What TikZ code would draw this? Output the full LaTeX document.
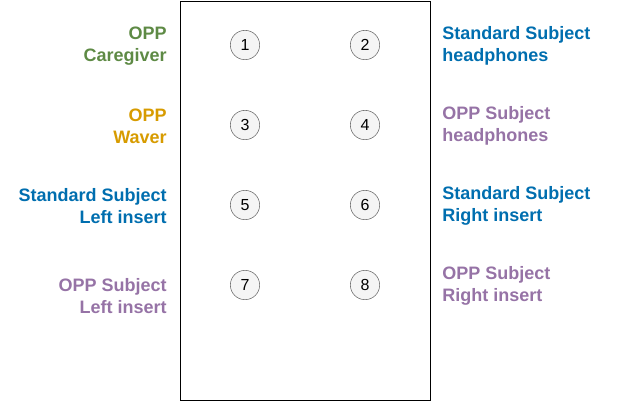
\documentclass[tikz,border=0pt]{standalone}
\usepackage{fontspec}
\setmainfont{Liberation Sans}
\usepackage{xcolor}
\usetikzlibrary{positioning}

\definecolor{oppgreen}{HTML}{5E8A45}
\definecolor{opporange}{HTML}{D79B00}
\definecolor{stdblue}{HTML}{006EAF}
\definecolor{opppurple}{HTML}{9673A6}

\tikzset{
    lbl/.style={font=\fontsize{13.5}{16.8}\selectfont\bfseries, inner sep=0pt},
    lbll/.style={lbl, anchor=east, align=right},
    lblr/.style={lbl, anchor=west, align=left},
    spot/.style={circle, draw=black!60, fill=black!4, minimum size=22pt, inner sep=0pt, font=\fontsize{12}{14}\selectfont}
}

\begin{document}
\begin{tikzpicture}[x=0.75pt, y=-0.75pt]
    \useasboundingbox (0,0) rectangle (631,401);

    % Box
    \draw[black, line width=0.75pt] (180.5,1) rectangle (430.5,400);

    % Spots
    \foreach \n/\x/\y in {1/245/45, 2/365/45, 3/245/125, 4/365/125, 5/245/205, 6/365/205, 7/245/285, 8/365/285}
        \node[spot] (s\n) at (\x,\y) {\n};

    % Left labels
    \node[lbll, text=oppgreen] (caregiver) at (167,46) {OPP\\Caregiver};
    \node[lbll, text=opporange] (waver) at (167,126) {OPP\\Waver};
    \node[lbll, text=stdblue] (stdleft) at (167,206) {Standard Subject\\Left insert};
    \node[lbll, text=opppurple] (oppleft) at (167,296) {OPP Subject\\Left insert};

    % Right labels
    \node[lblr, text=stdblue] (stdhead) at (442,46) {Standard Subject\\headphones};
    \node[lblr, text=opppurple] (opphead) at (442,126) {OPP Subject\\headphones};
    \node[lblr, text=stdblue] (stdright) at (442,206) {Standard Subject\\Right insert};
    \node[lblr, text=opppurple] (oppright) at (442,286) {OPP Subject\\Right insert};
\end{tikzpicture}
\end{document}
